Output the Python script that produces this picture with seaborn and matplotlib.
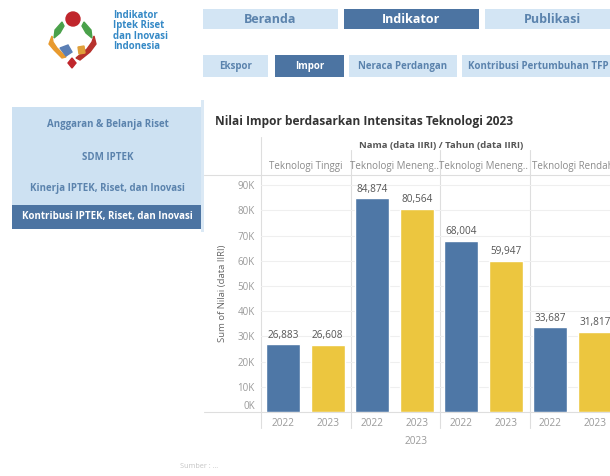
import numpy as np
import pandas as pd
import matplotlib
matplotlib.use("Agg")
import matplotlib.pyplot as plt
from matplotlib.patches import Rectangle, Circle, Polygon
import seaborn as sns

# ---- data -------------------------------------------------------------
categories = ["Teknologi Tinggi", "Teknologi Menengah Tinggi",
              "Teknologi Menengah Rendah", "Teknologi Rendah"]
header_labels = ["Teknologi Tinggi", "Teknologi Meneng..",
                 "Teknologi Meneng..", "Teknologi Rendah"]
years = ["2022", "2023"]
values_2022 = [26883, 84874, 68004, 33687]
values_2023 = [26608, 80564, 59947, 31817]
y_ticks = [0, 10000, 20000, 30000, 40000, 50000, 60000, 70000, 80000, 90000]
y_tick_labels = ["0K", "10K", "20K", "30K", "40K", "50K", "60K", "70K", "80K", "90K"]

nav_top = ["Beranda", "Indikator", "Publikasi"]
nav_sub = ["Ekspor", "Impor", "Neraca Perdangan", "Kontribusi Pertumbuhan TFP"]
side_menu = ["Anggaran & Belanja Riset", "SDM IPTEK",
             "Kinerja IPTEK, Riset, dan Inovasi",
             "Kontribusi IPTEK, Riset, dan Inovasi"]
brand_lines = ["Indikator", "Iptek Riset", "dan Inovasi", "Indonesia"]

rows = []
for cat, v22, v23 in zip(categories, values_2022, values_2023):
    rows.append({"slot": f"{cat} 2022", "Tahun": "2022", "Nilai": v22})
    rows.append({"slot": f"{cat} 2023", "Tahun": "2023", "Nilai": v23})
df = pd.DataFrame(rows)

# ---- style ------------------------------------------------------------
sns.set_theme(style="white")
plt.rcParams["font.family"] = ["Open Sans", "DejaVu Sans"]

BLUE = "#4e77a6"
YELLOW = "#ecc63f"
LIGHT = "#d3e5f4"
DARK = "#4c74a2"
NAV_TXT = "#5b83ad"
GRID = "#efefef"
SEP = "#dedede"

W, H = 610, 476
fig = plt.figure(figsize=(W / 100, H / 100), dpi=100)
fig.patch.set_facecolor("white")

# full-figure canvas in pixel units for the dashboard furniture
bg = fig.add_axes([0, 0, 1, 1])
bg.set_xlim(0, W)
bg.set_ylim(H, 0)
bg.axis("off")


def box(x0, y0, x1, y1, color):
    bg.add_patch(Rectangle((x0, y0), x1 - x0, y1 - y0, facecolor=color,
                           edgecolor="none", zorder=1))


# logo mark
bg.add_patch(Circle((73, 19), 7, color="#c0262c", zorder=2))
bg.add_patch(Polygon([[62, 22], [55, 30], [54, 38], [60, 33], [64, 26]],
                     closed=True, color="#4aa14a", zorder=2))
bg.add_patch(Polygon([[84, 22], [91, 30], [92, 38], [86, 33], [82, 26]],
                     closed=True, color="#4aa14a", zorder=2))
bg.add_patch(Polygon([[52, 36], [49, 44], [54, 50], [62, 58], [66, 57],
                      [57, 48], [53, 42]],
                     closed=True, color="#e89a2e", zorder=2))
bg.add_patch(Polygon([[94, 36], [96, 44], [90, 52], [80, 60], [76, 58],
                      [87, 49], [92, 42]],
                     closed=True, color="#b7322c", zorder=2))
bg.add_patch(Polygon([[60, 48], [68, 45], [72, 52], [66, 56]],
                     closed=True, color="#5b7fb5", zorder=2))
bg.add_patch(Polygon([[78, 47], [84, 46], [85, 53], [79, 54]],
                     closed=True, color="#e0a03a", zorder=2))
bg.add_patch(Polygon([[72, 58], [76, 63], [72, 68], [68, 63]],
                     closed=True, color="#c0262c", zorder=2))
bg.text(113, 9.5, "\n".join(brand_lines), fontsize=6.9, fontweight="bold",
        color="#3589c6", va="top", ha="left", linespacing=0.95)

# top navigation
top_boxes = [(203, 338), (344, 479), (485, 620)]
for (x0, x1), label in zip(top_boxes, nav_top):
    active = label == "Indikator"
    box(x0, 9, x1, 29, DARK if active else LIGHT)
    bg.text((x0 + x1) / 2, 19.5, label, fontsize=9, fontweight="bold",
            color="white" if active else NAV_TXT, ha="center", va="center",
            zorder=3)

sub_boxes = [(203, 268), (275, 344), (349, 457), (462, 640)]
for (x0, x1), label in zip(sub_boxes, nav_sub):
    active = label == "Impor"
    box(x0, 55, x1, 77, DARK if active else LIGHT)
    if x1 > W:
        bg.text(x0 + 6, 66.5, label, fontsize=7, fontweight="bold",
                color=NAV_TXT, ha="left", va="center", zorder=3)
    else:
        bg.text((x0 + x1) / 2, 66.5, label, fontsize=7, fontweight="bold",
                color="white" if active else NAV_TXT, ha="center",
                va="center", zorder=3)

# side menu
box(12, 107, 203, 205, "#cde1f2")
box(12, 205, 203, 229, DARK)
for yy, label in zip([124, 157, 189, 217], side_menu):
    active = label.startswith("Kontribusi")
    bg.text(107.5, yy, label, fontsize=7, fontweight="bold",
            color="white" if active else NAV_TXT, ha="center", va="center",
            zorder=3)
box(201, 100, 204, 232, "#dbe9f5")

# chart title and headers
bg.text(215, 121, "Nilai Impor berdasarkan Intensitas Teknologi 2023",
        fontsize=8.6, fontweight="bold", color="#333333", ha="left",
        va="center")
bg.text(441, 145, "Nama (data IIRI) / Tahun (data IIRI)", fontsize=6.8,
        fontweight="bold", color="#555555", ha="center", va="center")

# table rules
bg.plot([261, 261], [137, 428], color=SEP, lw=0.8, zorder=0)
for xs in [350.5, 440, 529.5]:
    bg.plot([xs, xs], [150, 428], color=SEP, lw=0.8, zorder=0)
bg.plot([204, W], [175, 175], color=SEP, lw=0.8, zorder=0)

bg.text(223, 293, "Sum of Nilai (data IIRI)", fontsize=6.8, color="#666666",
        rotation=90, ha="center", va="center")
bg.text(416, 442, "2023", fontsize=7.3, color="#9a9a9a", ha="center",
        va="center")
bg.text(180, 466, "Sumber : ...", fontsize=5.2, color="#c4c4c4", ha="left",
        va="center")

# ---- bar chart --------------------------------------------------------
ax = fig.add_axes([261 / W, (H - 412) / H, 356 / W, 238 / H])
ax.patch.set_alpha(0)
sns.barplot(data=df, x="slot", y="Nilai", hue="Tahun", dodge=False,
            palette={"2022": BLUE, "2023": YELLOW}, width=0.76,
            saturation=1, legend=False, ax=ax, zorder=3)
ax.set_xlim(-0.5, len(df) - 0.5)
ax.set_ylim(0, 94400)
ax.set_yticks(y_ticks)
ax.set_yticklabels(y_tick_labels)
ax.yaxis.grid(True, color=GRID, lw=0.8)
ax.set_axisbelow(True)
ax.tick_params(axis="y", length=0, pad=4.5, labelsize=7, labelcolor="#9a9a9a")
ax.get_yticklabels()[0].set_va("bottom")
ax.set_xticks(range(len(df)))
ax.set_xticklabels(df["Tahun"])
ax.tick_params(axis="x", length=0, pad=4, labelsize=7.3, labelcolor="#9a9a9a")
ax.set_xlabel("")
ax.set_ylabel("")
for s in ["top", "right", "left"]:
    ax.spines[s].set_visible(False)
ax.spines["bottom"].set_color(SEP)
ax.spines["bottom"].set_linewidth(0.8)

for cont in ax.containers:
    ax.bar_label(cont, fmt="{:,.0f}", padding=2.5, fontsize=7.2,
                 color="#555555")

for i, lab in enumerate(header_labels):
    ax.text(2 * i + 0.5, (412 - 166) / 238, lab, transform=ax.get_xaxis_transform(),
            fontsize=7, color="#8a8a8a", ha="center", va="center",
            clip_on=False)

# baseline extends left of the axis like the table rule
bg.plot([204, 261], [412, 412], color=SEP, lw=0.8, zorder=0)

fig.savefig("out.png", dpi=100)
